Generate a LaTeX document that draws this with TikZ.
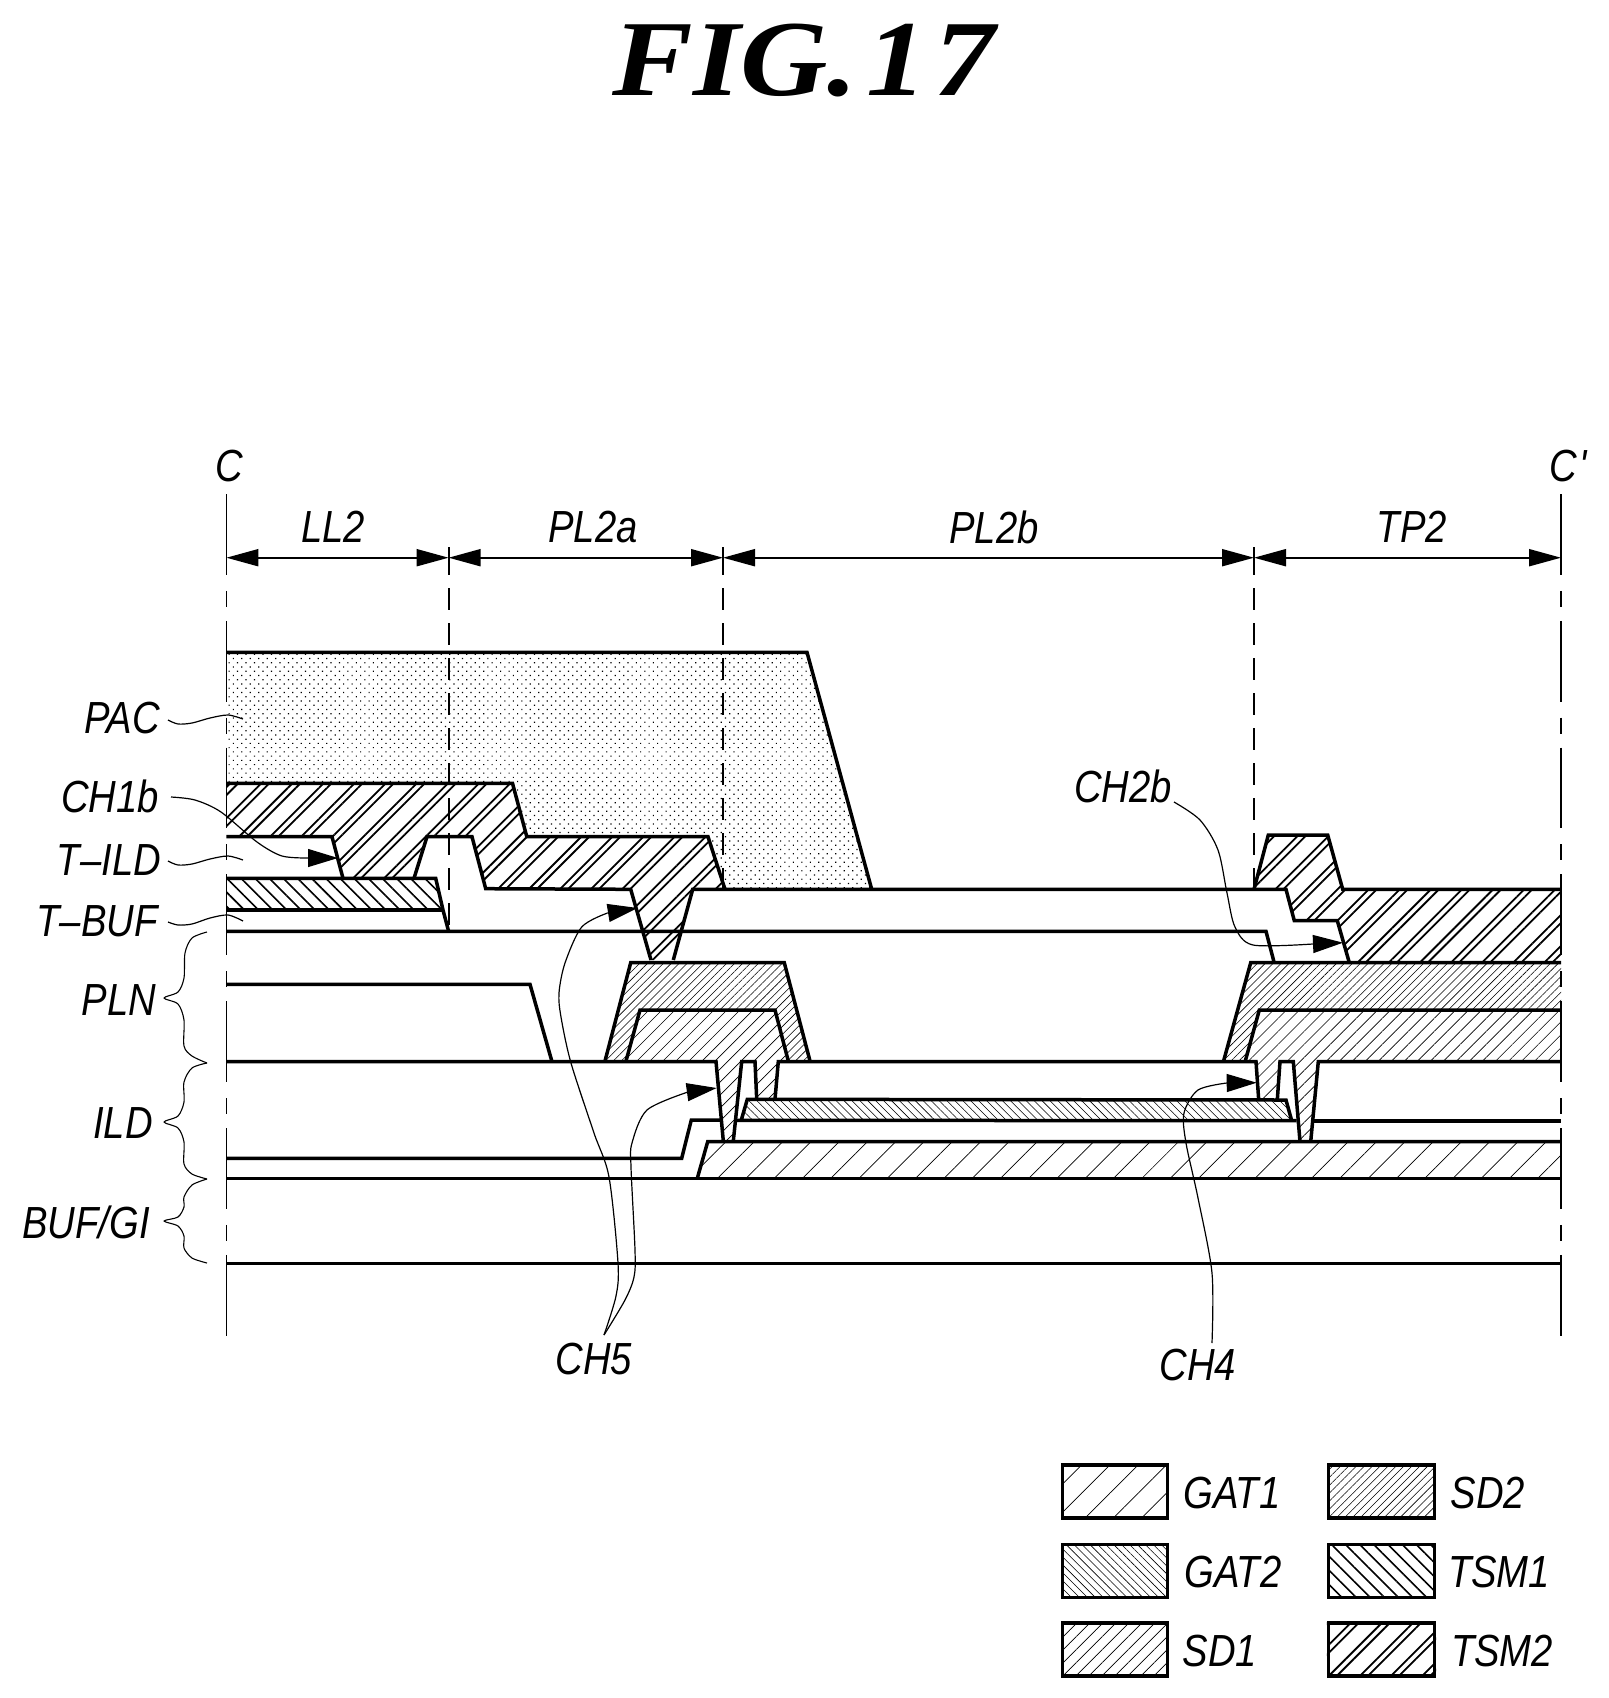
\documentclass[tikz,border=0pt]{standalone}
\usepackage{fontspec}
\setmainfont{Liberation Sans}
\newfontfamily\labfont[FakeStretch=0.85]{Liberation Sans}
\newfontfamily\titlefont[FakeStretch=1.12]{Liberation Serif}
\usetikzlibrary{patterns.meta,arrows.meta}
\tikzset{
  lab/.style={font=\labfont\itshape\fontsize{22.5}{24}\selectfont,inner sep=0pt},
  ln/.style={line width=1.75pt,line join=miter,line cap=butt},
  lnb/.style={line width=1.25pt},
  thin leader/.style={line width=0.6pt,line join=round},
  brace/.style={line width=0.55pt,line join=round},
  sect/.style={line width=0.65pt,dash pattern=on 40.4pt off 8pt on 8pt off 7pt},
  sectb/.style={line width=1pt,dash pattern=on 11pt off 6.5pt},
  sectc/.style={line width=1pt},
  dim/.style={line width=1pt,{Triangle[length=16pt,width=8.5pt]}-{Triangle[length=16pt,width=8.5pt]}},
  lead/.style={line width=0.6pt,-{Triangle[length=15pt,width=9pt]}},
  pGATa/.style={pattern={Lines[angle=45,distance=10pt,line width=0.35pt]}},
  pGATb/.style={pattern={Lines[angle=-45,distance=2.8pt,line width=0.28pt]}},
  pSDa/.style={pattern={Lines[angle=45,distance=4.6pt,line width=0.32pt]}},
  pSDb/.style={pattern={Lines[angle=45,distance=2.8pt,line width=0.28pt]}},
  pTSMa/.style={pattern={Lines[angle=-45,distance=5pt,line width=0.8pt]}},
  pTSMb/.style={pattern={Lines[angle=45,distance=11pt,line width=0.9pt]}},
  pTSMc/.style={pattern={Lines[angle=45,distance=11pt,xshift=4pt,line width=0.9pt]}},
  pPAC/.style={pattern={Dots[angle=45,distance=3pt,radius=0.42pt]}},
  legbox/.style={draw,line width=1.6pt},
}
\begin{document}
\begin{tikzpicture}[x=0.5pt,y=-0.5pt]
\useasboundingbox (0,0) rectangle (1608,1698);
\node[anchor=base west,inner sep=0pt,font=\titlefont\bfseries\itshape\fontsize{54}{60}\selectfont] (title) at (612,95) {FIG.\kern4.5pt1\kern3.5pt7};

% fills
\fill[pPAC] (226.4,652.3)--(807,652.3)--(871.7,889.3)--(725,889.3)--(708,836.7)--(526.8,836.7)--(512.5,783.3)--(226.4,783.3)--cycle;
\foreach \p in {pTSMb,pTSMc}{
\fill[\p] (226.4,783.3)--(512.5,783.3)--(526.8,836.7)--(708,836.7)--(725,889.3)--(692.7,889.3)--(673.3,960)--(651,960)--(630.7,889.3)--(485.7,888.7)--(472,836.7)--(427,836.7)--(414,878.3)--(343,878.3)--(332,836.7)--(226.4,836.7)--cycle;
\fill[\p] (1254,889.3)--(1268.3,835)--(1327.7,835)--(1342.7,889.3)--(1561,889.3)--(1561,962.7)--(1349.3,962.7)--(1337.3,920.7)--(1294.3,920.7)--(1286,889.3)--cycle;
}
\fill[pTSMa] (226.4,878.3)--(435.7,878.3)--(443,910)--(226.4,910)--cycle;
\fill[pSDb] (630.7,962.7)--(784.3,962.7)--(810,1061)--(788.3,1061)--(775,1010)--(640,1010)--(626,1061)--(605,1061)--cycle;
\fill[pSDb] (1250.7,962.7)--(1561,962.7)--(1561,1010)--(1259.3,1010)--(1245,1062)--(1223.3,1062)--cycle;
\fill[pSDa] (640,1010)--(775,1010)--(788.3,1061)--(778.3,1061)--(775,1099.3)--(756.7,1099.3)--(755,1061)--(741.7,1061)--(733.3,1141)--(723.3,1141)--(716,1061)--(626,1061)--cycle;
\fill[pSDa] (1259.3,1010)--(1561,1010)--(1561,1062)--(1318.3,1062)--(1310.7,1141.7)--(1300,1141.7)--(1293.3,1062)--(1280,1062)--(1277.3,1100)--(1258.7,1100)--(1256,1062)--(1245,1062)--cycle;
\fill[pGATb] (741,1121)--(747.3,1099.3)--(1286,1100)--(1291.7,1120.7)--cycle;
\fill[pGATa] (697.3,1178.3)--(707.7,1141.7)--(1561,1141.7)--(1561,1178.3)--cycle;

% section lines
\coordinate (ctop) at (226.4,494); \coordinate (cbot) at (226.4,1336);
\coordinate (dtop) at (1561,494); \coordinate (dbot) at (1561,1336);
\draw[sect] (ctop)--(cbot);
\draw[sect] (dtop)--(dbot);
\coordinate (da0) at (448.6,547); \coordinate (da) at (448.6,553); \coordinate (dae) at (448.6,931);
\coordinate (db0) at (723,547); \coordinate (db) at (723,553); \coordinate (dbe) at (723,889);
\coordinate (dc0) at (1254,547); \coordinate (dc) at (1254,553); \coordinate (dce) at (1254,889);
\draw[sectc] (da0)--(da);
\draw[sectc] (db0)--(db);
\draw[sectc] (dc0)--(dc);
\draw[sectb] (da)--(dae);
\draw[sectb] (db)--(dbe);
\draw[sectb] (dc)--(dce);
% dimension arrows
\coordinate (m0) at (226.4,557.7); \coordinate (m1) at (448.6,557.7);
\coordinate (m2) at (723,557.7); \coordinate (m3) at (1254,557.7); \coordinate (m4) at (1561,557.7);
\draw[dim] (m0)--(m1);
\draw[dim] (m1)--(m2);
\draw[dim] (m2)--(m3);
\draw[dim] (m3)--(m4);

% layer lines
\draw[ln] (226.4,652.3)--(807,652.3)--(871.7,889.3);
\draw[ln] (226.4,783.3)--(512.5,783.3)--(526.8,836.7)--(708,836.7)--(725,889.3);
\draw[ln] (226.4,836.7)--(332,836.7)--(343,878.3);
\draw[ln] (414,878.3)--(427,836.7)--(472,836.7)--(485.7,888.7)--(630.7,889.3)--(651,960);
\draw[ln] (673.3,960)--(692.7,889.3)--(1286,889.3)--(1294.3,920.7)--(1337.3,920.7)--(1349.3,962.7);
\draw[ln] (226.4,878.3)--(435.7,878.3)--(443,910)--(448.6,931.3);
\draw[ln] (226.4,910)--(443,910);
\draw[ln] (226.4,931.3)--(1266,931.3)--(1274,962);
\draw[ln] (226.4,984.3)--(530,984.3)--(552,1061.7);
\draw[ln] (605,1061)--(630.7,962.7)--(784.3,962.7)--(810,1061);
\draw[ln] (626,1061)--(640,1010)--(775,1010)--(788.3,1061);
\draw[ln] (226.4,1061.5)--(716,1061.5)--(723.3,1141);
\draw[ln] (733.3,1141)--(741.7,1061.5)--(755,1061.5)--(756.7,1099.3);
\draw[ln] (775,1099.3)--(778.3,1061.5)--(1256,1061.5)--(1258.7,1100);
\draw[ln] (741,1121)--(747.3,1099.3)--(1286,1100)--(1291.7,1120.7);
\draw[ln] (226.4,1158.3)--(681.7,1158.3)--(691.3,1120)--(721.7,1120);
\draw[ln] (736.7,1120.3)--(1296.7,1120.7);
\draw[ln] (697.3,1178.3)--(707.7,1141.7)--(1561,1141.7);
\draw[ln] (226.4,1178.3)--(1561,1178.3);
\draw[ln] (1277.3,1100)--(1280,1061.5)--(1293.3,1061.5)--(1300,1141.7);
\draw[ln] (1310.7,1141.7)--(1318.3,1061.5)--(1561,1061.5);
\draw[ln] (1313.3,1121)--(1561,1121);
\draw[ln] (1223.3,1062)--(1250.7,962.7)--(1561,962.7);
\draw[ln] (1245,1062)--(1259.3,1010)--(1561,1010);
\draw[ln] (1254,889.3)--(1268.3,835)--(1327.7,835)--(1342.7,889.3)--(1561,889.3);
\draw[lnb] (226.4,1263.3)--(1561,1263.3);

% labels
\node[lab] (C) at (229,466) {C};
\node[lab] (Cp) at (1568,466) {C\kern1.5pt'};
\node[lab] (LL2) at (333,527) {LL2};
\node[lab] (PL2a) at (593,527) {PL2a};
\node[lab] (PL2b) at (994,527) {PL2b};
\node[lab] (TP2) at (1412,527) {TP2};
\node[lab] (PAC) at (122,718) {PAC};
\node[lab] (CH1b) at (110,796) {CH1b};
\node[lab] (TILD) at (109,860) {T–ILD};
\node[lab] (TBUF) at (97,921) {T–BUF};
\node[lab] (PLN) at (119,1000) {PLN};
\node[lab] (ILD) at (123,1123) {ILD};
\node[lab] (BUFGI) at (86,1222) {BUF/GI};
\node[lab] (CH5) at (594,1359) {CH5};
\node[lab] (CH4) at (1198,1365) {CH4};
\node[lab] (CH2b) at (1123,786) {CH2b};

% small wavy leaders
\draw[thin leader] plot[smooth] coordinates {(168,720) (178,724) (192,723) (210,718) (228,715) (243,719)};
\draw[thin leader] plot[smooth] coordinates {(168,861) (178,865) (192,864) (210,859) (228,856) (243,860)};
\draw[thin leader] plot[smooth] coordinates {(168,922) (178,925) (192,924) (210,918) (228,915) (243,921)};
% braces
\draw[brace] plot[smooth,tension=0.5] coordinates {(207,932) (192,938) (185,953) (184,978) (178,992) (164,998) (178,1004) (184,1020) (184,1046) (192,1056) (207,1063)};
\draw[brace] plot[smooth,tension=0.5] coordinates {(207,1063) (192,1068) (184,1082) (184,1102) (178,1116) (164,1122) (178,1128) (184,1142) (184,1164) (192,1174) (207,1179)};
\draw[brace] plot[smooth,tension=0.5] coordinates {(207,1179) (192,1185) (184,1197) (184,1207) (178,1217) (164,1221) (178,1226) (184,1236) (184,1248) (192,1258) (207,1263)};

% arrow leaders
\coordinate (a1b) at (309,858); \coordinate (a1t) at (338,858);
\draw[thin leader] plot[smooth] coordinates {(171,797) (195,800) (221,812) (257,842) (282,856) (a1b)};
\draw[lead] (a1b)--(a1t);
\coordinate (s5) at (604,1335);
\coordinate (a5b) at (607.5,913); \coordinate (a5t) at (637.7,908);
\draw[thin leader] plot[smooth] coordinates {(s5) (616,1296) (618,1263) (609,1177) (594,1133) (571,1063) (561,1017) (559,993) (565,963) (581.7,927) (a5b)};
\draw[lead] (a5b)--(a5t);
\coordinate (a6b) at (688,1092); \coordinate (a6t) at (716.7,1088);
\draw[thin leader] plot[smooth] coordinates {(s5) (625,1300) (634,1277) (635,1250) (631,1167) (632,1143) (647,1110) (a6b)};
\draw[lead] (a6b)--(a6t);
\coordinate (s4) at (1212,1343);
\coordinate (a4b) at (1226.7,1083); \coordinate (a4t) at (1256.7,1082.7);
\draw[thin leader] plot[smooth] coordinates {(s4) (1212,1273) (1198,1198) (1186,1143) (1184,1113) (1198,1090) (a4b)};
\draw[lead] (a4b)--(a4t);
\coordinate (s2) at (1174,802);
\coordinate (a2b) at (1312.7,944); \coordinate (a2t) at (1343,942.7);
\draw[thin leader] plot[smooth] coordinates {(s2) (1200,820) (1218,850) (1227,893) (1235,927) (1253,945) (a2b)};
\draw[lead] (a2b)--(a2t);

% legend
\node[legbox,pGATa,minimum width=52.5pt,minimum height=26.5pt,inner sep=0pt] (bGATa) at (1115,1491.5) {};
\node[legbox,pSDb,minimum width=53pt,minimum height=26.5pt,inner sep=0pt] (bSDb) at (1381.5,1491.5) {};
\node[legbox,pGATb,minimum width=52.5pt,minimum height=26.5pt,inner sep=0pt] (bGATb) at (1115,1571) {};
\node[legbox,pTSMa,minimum width=53pt,minimum height=26.5pt,inner sep=0pt] (bTSMa) at (1381.5,1571) {};
\node[legbox,pSDa,minimum width=52.5pt,minimum height=26.5pt,inner sep=0pt] (bSDa) at (1115,1649.5) {};
\node[legbox,pTSMb,minimum width=53pt,minimum height=26.5pt,inner sep=0pt] (bTSMb) at (1381.5,1649.5) {};
\fill[pTSMc] (bTSMb.south west) rectangle (bTSMb.north east);
\node[lab] (lGATa) at (1232,1493) {GAT1};
\node[lab] (lSDb) at (1488,1493) {SD2};
\node[lab] (lGATb) at (1233,1572) {GAT2};
\node[lab] (lTSMa) at (1499,1572) {TSM1};
\node[lab] (lSDa) at (1220,1651) {SD1};
\node[lab] (lTSMb) at (1502,1651) {TSM2};
\end{tikzpicture}
\end{document}
